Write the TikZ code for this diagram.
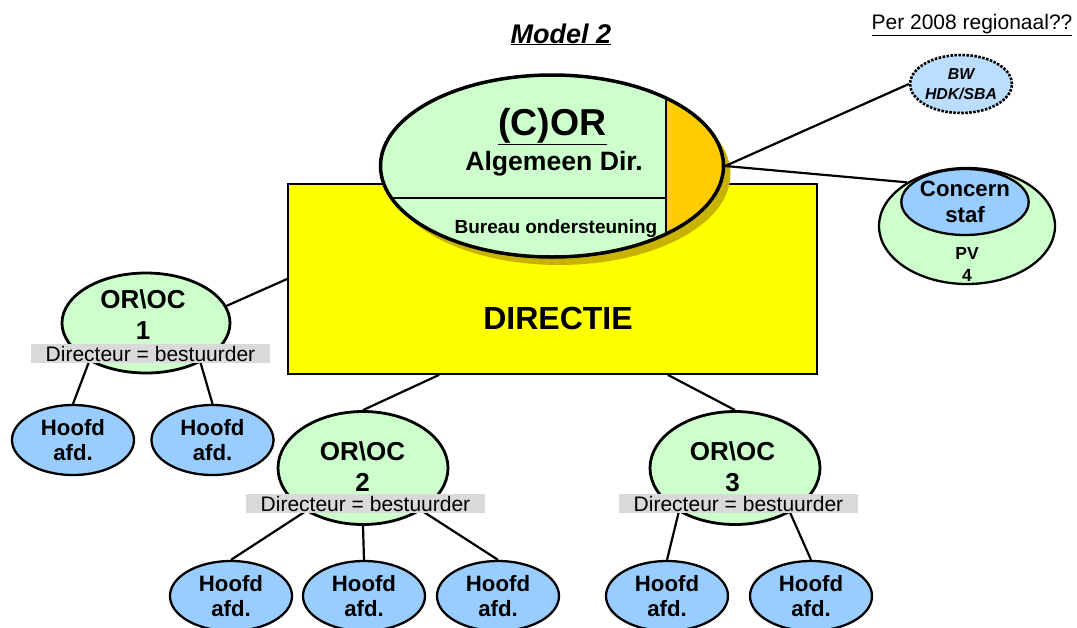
\documentclass[tikz,border=0pt]{standalone}
\usepackage{fontspec}
\setmainfont{Liberation Sans}
\usetikzlibrary{shapes.geometric}
\definecolor{orgroen}{HTML}{CCFFCC}
\definecolor{afdblauw}{HTML}{99CCFF}
\definecolor{bwblauw}{HTML}{BBDDFF}
\definecolor{dirgeel}{HTML}{FFFF00}
\definecolor{cororanje}{HTML}{FFCC00}
\definecolor{schaduw}{HTML}{C8B400}
\definecolor{labelgrijs}{HTML}{D9D9D9}

\begin{document}
\begin{tikzpicture}[x=1pt,y=-1pt,
  orc/.style={ellipse,draw,fill=orgroen,line width=2.8pt,inner sep=0pt},
  afd/.style={ellipse,draw,fill=afdblauw,line width=2.3pt,minimum width=122pt,minimum height=70pt,
    inner sep=0pt,align=center,font=\fontsize{22.2}{25.5}\selectfont\bfseries},
  ortxt/.style={align=center,font=\fontsize{26}{31}\selectfont\bfseries},
  dirlabel/.style={fill=labelgrijs,minimum width=239pt,minimum height=19pt,inner sep=0pt,
    font=\fontsize{21}{21}\selectfont},
  lijn/.style={line width=2.2pt}]
\useasboundingbox (0,0) rectangle (1077,627);
% titels
\node[anchor=base,font=\fontsize{27}{27}\selectfont\bfseries\itshape] (titel) at (561,43) {\underline{Model 2}};
\node[anchor=base,font=\fontsize{21}{21}\selectfont] (regio) at (972,29) {\underline{Per 2008 regionaal??}};
% directie
\node[draw,fill=dirgeel,line width=1.8pt,minimum width=529pt,minimum height=190pt,inner sep=0pt] (dir) at (552.5,279) {};
\node[font=\fontsize{32}{32}\selectfont\bfseries] (dirtxt) at (558,318) {DIRECTIE};
% (C)OR
\fill[schaduw] (559,174) ellipse [x radius=171.5,y radius=91];
\node[orc,minimum width=343pt,minimum height=182pt,line width=3.5pt,
  path picture={
    \fill[cororanje] ([xshift=114pt]path picture bounding box.north) rectangle (path picture bounding box.south east);
    \draw[lijn] ([xshift=114pt]path picture bounding box.north) -- ([xshift=114pt]path picture bounding box.south);
    \draw[lijn] ([yshift=-32pt]path picture bounding box.west) -- ([xshift=114pt,yshift=-32pt]path picture bounding box.center);
  }] (cor) at (552,166) {};
\node[anchor=base,font=\fontsize{37.5}{37.5}\selectfont\bfseries] (cortxt) at (552.5,135) {\underline{(C)OR}};
\node[anchor=base,font=\fontsize{26.6}{26.6}\selectfont\bfseries] (algdir) at (554,170) {Algemeen Dir.};
\node[anchor=base,font=\fontsize{19}{19}\selectfont\bfseries] (bureau) at (556,233) {Bureau ondersteuning};
% BW en concernstaf
\node[ellipse,draw,fill=bwblauw,line width=2.6pt,dash pattern=on 2.5pt off 1.5pt,minimum width=92pt,minimum height=58pt,
  inner sep=0pt,align=center,font=\fontsize{15.8}{20}\selectfont\bfseries\itshape] (bw) at (961,84) {BW\\HDK/SBA};
\node[ellipse,draw,fill=orgroen,line width=2.3pt,minimum width=176pt,minimum height=116pt] (pv) at (967,226) {};
\node[afd,minimum width=124pt,minimum height=66pt] (staf) at (965,202) {Concern\\staf};
\node[align=center,font=\fontsize{17.5}{22}\selectfont\bfseries] (pvtxt) at (967,264) {PV\\4};
\draw[lijn] (cor.east) -- (bw.west);
\draw[lijn] (cor.east) -- (pv.144);
% OR\OC
\node[orc,minimum width=168pt,minimum height=100pt] (or1) at (146,323) {};
\node[orc,minimum width=170pt,minimum height=113pt] (or2) at (363,468) {};
\node[orc,minimum width=170pt,minimum height=113pt] (or3) at (735,468) {};
\node[ortxt] (or1t) at (143,315) {OR\textbackslash OC\\1};
\node[ortxt] (or2t) at (362.5,466.5) {OR\textbackslash OC\\2};
\node[ortxt] (or3t) at (732.5,466.5) {OR\textbackslash OC\\3};
% hoofd afdelingen
\node[afd] (h1a) at (73,440) {Hoofd\\afd.};
\node[afd] (h1b) at (212.5,440) {Hoofd\\afd.};
\node[afd] (h2a) at (231,596) {Hoofd\\afd.};
\node[afd] (h2b) at (364,596) {Hoofd\\afd.};
\node[afd] (h2c) at (498,596) {Hoofd\\afd.};
\node[afd] (h3a) at (667,596) {Hoofd\\afd.};
\node[afd] (h3b) at (811,596) {Hoofd\\afd.};
% lijnen
\draw[lijn] (or1.12) -- (dir.west);
\draw[lijn] ([xshift=152pt]dir.south west) -- (or2.north);
\draw[lijn] ([xshift=-150pt]dir.south east) -- (or3.north);
\draw[lijn] (or1.214) -- (h1a.north) (or1.324) -- (h1b.north);
\draw[lijn] (or2.217) -- (h2a.north) (or2.south) -- (h2b.north) (or2.324) -- (h2c.north);
\draw[lijn] (or3.218) -- (h3a.north) (or3.321) -- (h3b.north);
% directeur = bestuurder
\node[dirlabel] (d1) at (150.5,353.5) {Directeur = bestuurder};
\node[dirlabel] (d2) at (365.5,503.5) {Directeur = bestuurder};
\node[dirlabel] (d3) at (738.5,503.5) {Directeur = bestuurder};
\end{tikzpicture}
\end{document}
